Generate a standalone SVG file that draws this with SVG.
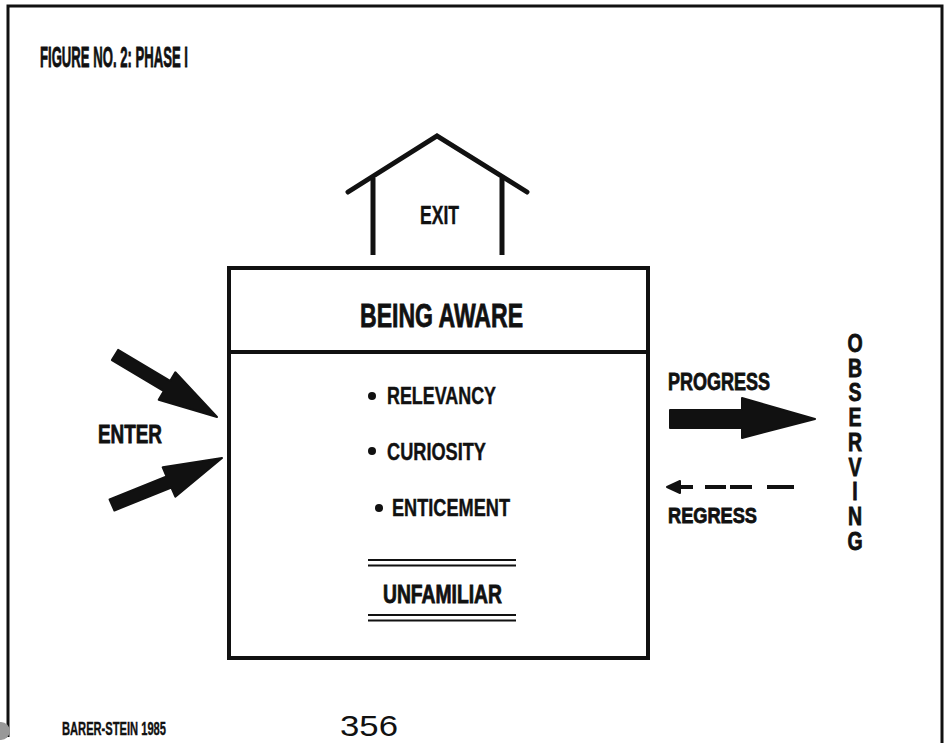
<svg xmlns="http://www.w3.org/2000/svg" width="947" height="743" viewBox="0 0 947 743">
  <style>
    text { font-family: "Liberation Sans", Arial, sans-serif; fill: #111; }
    .hd { font-weight: bold; stroke: #111; stroke-width: 0.8; }
    .it { font-weight: bold; stroke: #111; stroke-width: 0.4; }
    .line { stroke: #111; fill: none; }
    .solid { fill: #111; stroke: #111; stroke-width: 2; stroke-linejoin: round; }
  </style>
  <rect width="947" height="743" fill="#fff"/>

  <!-- page frame -->
  <g id="frame" class="line" stroke-width="3">
    <polyline points="8,737 8,6 942,6 942,743"/>
  </g>

  <text id="title" class="hd" x="40" y="67" font-size="30" textLength="148" lengthAdjust="spacingAndGlyphs">FIGURE NO. 2: PHASE I</text>

  <!-- exit house -->
  <g id="exit">
    <polyline class="line" stroke-width="5" stroke-linecap="round" stroke-linejoin="miter" points="348,192 437,136 527,192"/>
    <line class="line" stroke-width="5" x1="373" y1="178" x2="373" y2="255"/>
    <line class="line" stroke-width="5" x1="502" y1="178" x2="502" y2="255"/>
    <text class="it" x="420" y="224" font-size="26" textLength="39" lengthAdjust="spacingAndGlyphs">EXIT</text>
  </g>

  <!-- main phase box -->
  <g id="being-aware">
    <rect class="line" stroke-width="4" x="229" y="268" width="419" height="390"/>
    <line class="line" stroke-width="4" x1="229" y1="352" x2="648" y2="352"/>
    <text class="hd" x="360" y="327" font-size="33" textLength="163" lengthAdjust="spacingAndGlyphs">BEING AWARE</text>
    <circle cx="372" cy="396" r="4" fill="#111"/>
    <text class="it" x="387" y="404" font-size="23" textLength="109" lengthAdjust="spacingAndGlyphs">RELEVANCY</text>
    <circle cx="372" cy="451" r="4" fill="#111"/>
    <text class="it" x="387" y="460" font-size="23" textLength="99" lengthAdjust="spacingAndGlyphs">CURIOSITY</text>
    <circle cx="379" cy="508" r="4" fill="#111"/>
    <text class="it" x="392" y="516" font-size="23" textLength="118" lengthAdjust="spacingAndGlyphs">ENTICEMENT</text>
    <g class="line" stroke-width="2">
      <line x1="368" y1="560" x2="516" y2="560"/>
      <line x1="368" y1="565.5" x2="516" y2="565.5"/>
      <line x1="368" y1="615" x2="516" y2="615"/>
      <line x1="368" y1="620.5" x2="516" y2="620.5"/>
    </g>
    <text class="hd" x="383" y="603" font-size="25" textLength="119" lengthAdjust="spacingAndGlyphs">UNFAMILIAR</text>
  </g>

  <text id="enter" class="hd" x="98" y="443" font-size="26" textLength="64" lengthAdjust="spacingAndGlyphs">ENTER</text>

  <!-- vertical label of the next phase, one letter per line -->
  <g id="observing" transform="translate(855 0) scale(0.78 1)">
    <text class="hd" font-size="25" text-anchor="middle" y="352"><tspan x="0">O</tspan><tspan x="0" dy="24.75">B</tspan><tspan x="0" dy="24.75">S</tspan><tspan x="0" dy="24.75">E</tspan><tspan x="0" dy="24.75">R</tspan><tspan x="0" dy="24.75">V</tspan><tspan x="0" dy="24.75">I</tspan><tspan x="0" dy="24.75">N</tspan><tspan x="0" dy="24.75">G</tspan></text>
  </g>

  <!-- arrows -->
  <g id="connectors">
    <polygon class="solid" points="118.1,349.9 170.1,380.9 175.3,372.3 217,417 158.7,399.7 163.9,391.1 111.9,360.1"/>
    <polygon class="solid" points="109.6,499.5 166.6,476.5 162.7,467.3 222,458 175.3,496.7 171.4,487.5 114.4,510.5"/>
    <polygon class="solid" points="670,410 742,410 742,398 815,419 742,438 742,428 670,428"/>
    <polygon class="solid" points="667,487 680,481 680,493"/>
    <g class="line" stroke-width="4">
      <line x1="678" y1="487" x2="693" y2="487"/>
      <line x1="705" y1="487" x2="726" y2="487"/>
      <line x1="730" y1="487" x2="752" y2="487"/>
      <line x1="767" y1="487" x2="794" y2="487"/>
    </g>
    <text class="hd" x="668" y="390" font-size="24" textLength="102" lengthAdjust="spacingAndGlyphs">PROGRESS</text>
    <text class="hd" x="668" y="523" font-size="22" textLength="89" lengthAdjust="spacingAndGlyphs">REGRESS</text>
  </g>

  <!-- footer -->
  <circle cx="1" cy="731" r="9" fill="#999"/>
  <text id="credit" class="it" x="62" y="735" font-size="19" textLength="104" lengthAdjust="spacingAndGlyphs">BARER-STEIN 1985</text>
  <text id="page" x="340" y="736" font-size="30" textLength="58" lengthAdjust="spacingAndGlyphs">356</text>
</svg>
